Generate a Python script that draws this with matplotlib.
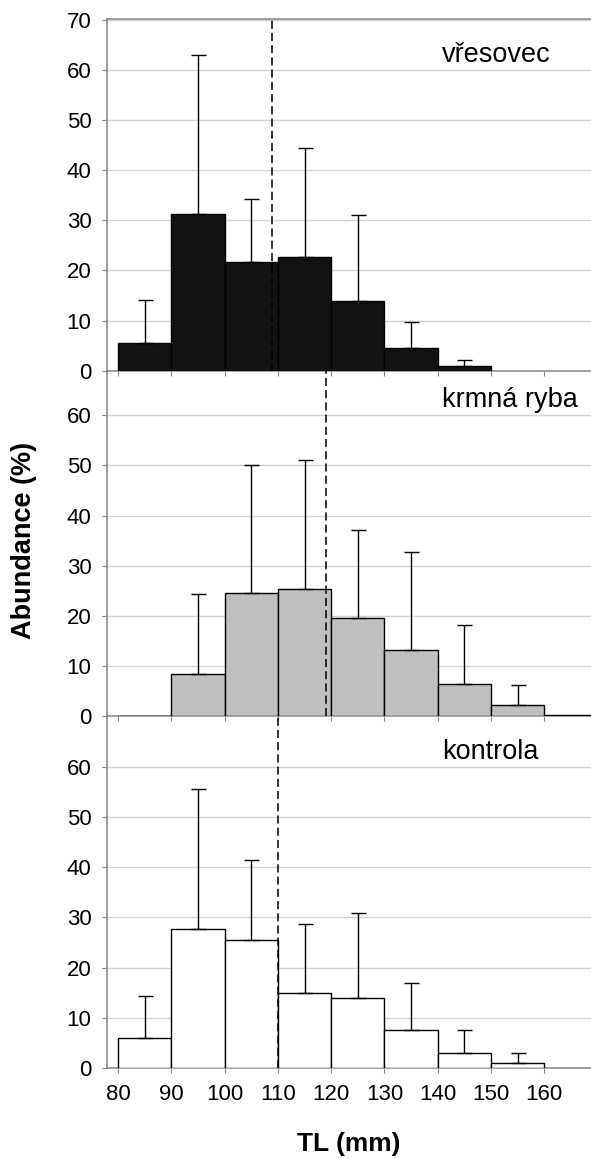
import numpy as np
import matplotlib
matplotlib.use("Agg")
import matplotlib.pyplot as plt

plt.rcParams['font.family'] = ['Liberation Sans', 'DejaVu Sans']

# ---- data ----
bin_left = [80, 90, 100, 110, 120, 130, 140, 150, 160]
x_ticks = [80, 90, 100, 110, 120, 130, 140, 150, 160]

vresovec_mean = [5.5, 31.3, 21.6, 22.6, 13.8, 4.5, 1.0, np.nan, np.nan]
vresovec_sd = [8.6, 31.7, 12.7, 21.8, 17.3, 5.2, 1.2, np.nan, np.nan]

krmna_mean = [0.0, 8.5, 24.5, 25.3, 19.6, 13.3, 6.5, 2.3, 0.2]
krmna_sd = [np.nan, 15.8, 25.5, 25.7, 17.5, 19.4, 11.7, 3.9, np.nan]

kontrola_mean = [6.0, 27.7, 25.4, 15.0, 14.0, 7.6, 3.0, 1.0, np.nan]
kontrola_sd = [8.4, 27.9, 16.1, 13.6, 16.8, 9.3, 4.6, 2.0, np.nan]

panel_names = ['vřesovec', 'krmná ryba', 'kontrola']
panel_means_tl = [108.9, 119.0, 110.0]
panel_colors = ['#121212', '#c0c0c0', '#ffffff']

# ---- layout (figure fractions) ----
W, H = 591, 1159
fig = plt.figure(figsize=(W / 100, H / 100), dpi=100)
left = 107 / W
width = 1 - left
rows = [(19.3, 370.7), (370.7, 716.2), (716.2, 1067.8)]
ppu = 5.015  # pixels per % unit
axes = []
for (t, b) in rows:
    ax = fig.add_axes([left, (H - b) / H, width, (b - t) / H])
    ax.set_ylim(0, (b - t) / ppu)
    axes.append(ax)

series = [(vresovec_mean, vresovec_sd), (krmna_mean, krmna_sd), (kontrola_mean, kontrola_sd)]
grey = '#858585'

for i, ax in enumerate(axes):
    mean, sd = series[i]
    mean = np.array(mean, dtype=float)
    sd = np.array(sd, dtype=float)
    xl = np.array(bin_left, dtype=float)
    ok = ~np.isnan(mean)
    ax.bar(xl[ok], mean[ok], width=10, align='edge', color=panel_colors[i],
           edgecolor='black', linewidth=1.0, zorder=2)
    ek = ok & ~np.isnan(sd)
    yerr = np.vstack([np.zeros(ek.sum()), sd[ek]])
    ax.errorbar(xl[ek] + 5, mean[ek], yerr=yerr, fmt='none', ecolor='black',
                elinewidth=1.0, capsize=5.4, capthick=1.0, zorder=3)
    ax.axvline(panel_means_tl[i], color='black', linewidth=1.1,
               dashes=(5.3, 2.7), zorder=4)

    ax.set_xlim(77.9, 168.8)
    ax.set_yticks([0, 10, 20, 30, 40, 50, 60, 70] if i == 0 else [0, 10, 20, 30, 40, 50, 60])
    ax.set_xticks(x_ticks)
    ax.grid(axis='y', color='#d3d3d3', linewidth=1.0, zorder=0)
    ax.set_axisbelow(True)
    ax.spines['right'].set_visible(False)
    ax.spines['top'].set_visible(i == 0)
    ax.spines['top'].set_color(grey)
    ax.spines['top'].set_linewidth(1.1)
    ax.spines['left'].set_color(grey)
    ax.spines['left'].set_linewidth(1.1)
    ax.spines['bottom'].set_color(grey)
    ax.spines['bottom'].set_linewidth(1.1)
    ax.spines['bottom'].set_zorder(1.5)
    ax.tick_params(axis='y', direction='out', length=3.6, width=0.8, color=grey,
                   labelsize=16, pad=7.5)
    ax.tick_params(axis='x', direction='out', length=3.6, width=0.8, color=grey,
                   labelsize=16, pad=8, labelbottom=(i == 2))
    ax.text(140.8, 63.0, panel_names[i], fontsize=19.5, ha='left', va='center', zorder=5)
    ax.patch.set_alpha(0)

fig.text(24.5 / W, 1 - 540 / H, 'Abundance (%)', rotation=90, ha='center', va='center',
         fontsize=19.5, fontweight='bold')
fig.text((107 + 591) / 2 / W, 1 - 1144 / H, 'TL (mm)', ha='center', va='center',
         fontsize=19, fontweight='bold')

fig.savefig('out.png', dpi=100)
